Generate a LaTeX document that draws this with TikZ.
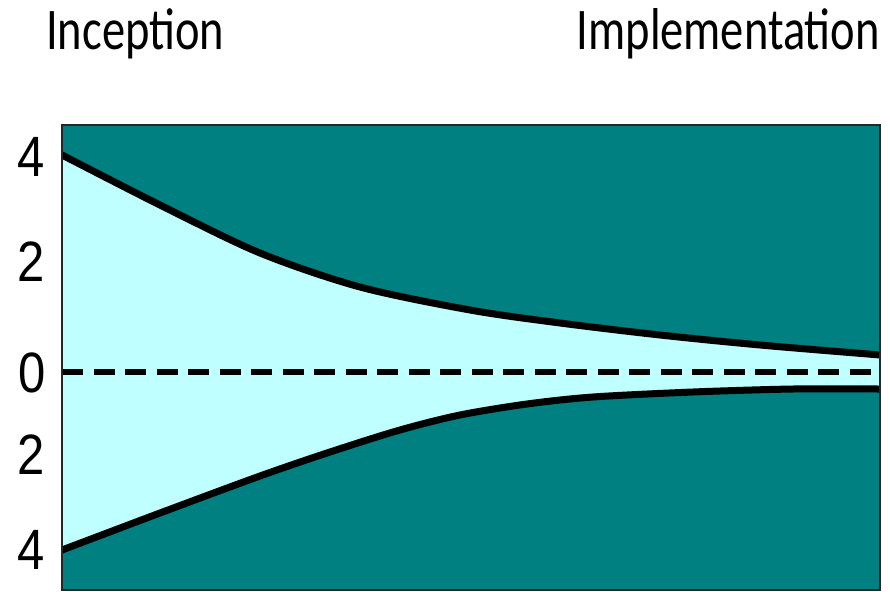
\documentclass[tikz,border=0pt]{standalone}
\usepackage{fontspec}
\newfontfamily\headfont{Carlito}
\newfontfamily\numfont{Liberation Sans}
\definecolor{darkteal}{HTML}{008080}
\definecolor{paleCyan}{HTML}{C0FFFF}
\begin{document}
\begin{tikzpicture}[x=1pt,y=-1pt,
  headlabel/.style={inner sep=0pt,font=\headfont\fontsize{46.5}{50}\selectfont},
  ticklabel/.style={inner sep=0pt,font=\numfont\fontsize{49}{52}\selectfont},
  boundcurve/.style={line width=7pt,black},
  zeroline/.style={line width=6pt,black,dash pattern=on 21pt off 10.5pt}]
\useasboundingbox (0,0) rectangle (890,591);
\coordinate (bl) at (62,590);
\coordinate (tr) at (880,125);
\coordinate (zl) at (62,372);
\coordinate (zr) at (880,372);
% box background
\fill[paleCyan] (62,125) rectangle (880,590);
\begin{scope}
\clip (62,125) rectangle (880,590);
\fill[darkteal] (62,125) -- plot[smooth,tension=0.5] coordinates {(62,155) (160,205) (260,253) (360,287) (470,310) (560,323) (660,335) (760,345) (880,355)} -- (880,125) -- cycle;
\fill[darkteal] (62,590) -- plot[smooth,tension=0.5] coordinates {(62,550) (160,513) (260,476) (330,452) (400,430) (460,415) (527,404) (593,397) (693,392) (793,389) (880,389)} -- (880,590) -- cycle;
\draw[boundcurve] plot[smooth,tension=0.5] coordinates {(58,153) (62,155) (160,205) (260,253) (360,287) (470,310) (560,323) (660,335) (760,345) (880,355) (884,355.3)};
\draw[boundcurve] plot[smooth,tension=0.5] coordinates {(58,551.5) (62,550) (160,513) (260,476) (330,452) (400,430) (460,415) (527,404) (593,397) (693,392) (793,389) (880,389) (884,389)};
\draw[zeroline] (zl) -- (zr);
\end{scope}
\draw[line width=1.3pt,black!85] (bl) rectangle (tr);
% labels
\node[headlabel,anchor=base west] (inception) at (46,50) {\scalebox{1}[1.27]{Inception}};
\node[headlabel,anchor=base east] (implementation) at (880,50) {\scalebox{1}[1.27]{Implementation}};
\node[ticklabel] (t4a) at (31,157) {\scalebox{1}[1.16]{4}};
\node[ticklabel] (t2a) at (31,262) {\scalebox{1}[1.16]{2}};
\node[ticklabel] (t0) at (32,373) {\scalebox{1}[1.16]{0}};
\node[ticklabel] (t2b) at (31,455) {\scalebox{1}[1.16]{2}};
\node[ticklabel] (t4b) at (31,550) {\scalebox{1}[1.16]{4}};
\end{tikzpicture}
\end{document}
